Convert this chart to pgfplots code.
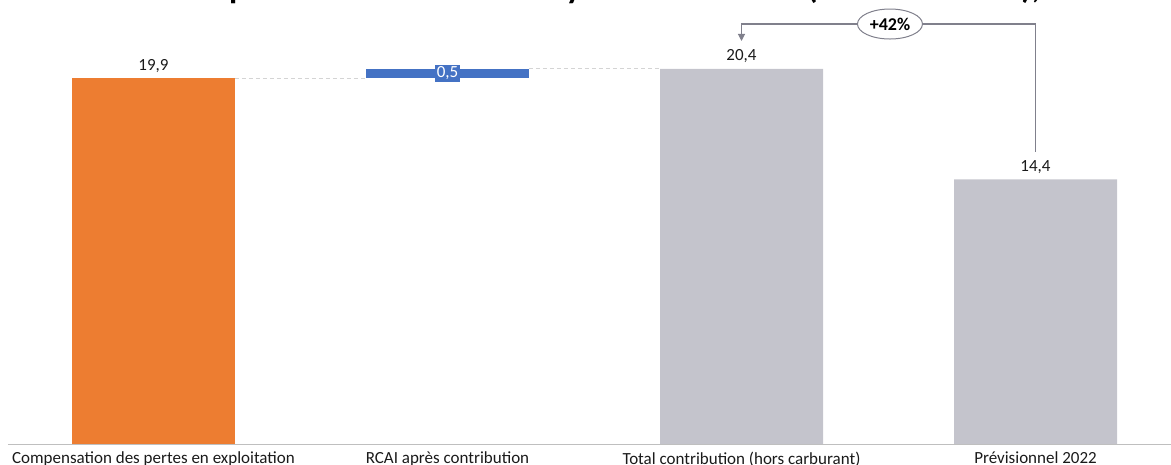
\documentclass[border=0pt]{standalone}
\usepackage{fontspec}
\setmainfont{Carlito}
\usepackage{pgfplots}
\pgfplotsset{compat=1.18}
\usetikzlibrary{arrows.meta,shapes.geometric}
\definecolor{cOrange}{HTML}{ED7D31}
\definecolor{cBlue}{HTML}{4472C4}
\definecolor{cGray}{HTML}{C4C4CC}
\definecolor{cLine}{HTML}{80808C}
\definecolor{cText}{HTML}{1A1A1A}
\definecolor{cDash}{HTML}{D4D4D4}
\definecolor{cBase}{HTML}{BFBFBF}
\begin{document}
\begin{tikzpicture}
\begin{axis}[
  x=294pt, y=18.44pt,
  xmin=-0.5221, xmax=3.4609, ymin=0, ymax=24.132,
  axis line style={draw=none},
  ytick=\empty,
  xtick={0,1,2,3},
  xticklabels={Compensation des pertes en exploitation, RCAI après contribution, Total contribution (hors carburant), Prévisionnel 2022},
  major tick length=0pt,
  xticklabel style={font=\fontsize{17}{20}\selectfont, text=cText, anchor=north, inner sep=0pt, yshift=-7pt},
  clip=false,
  ybar stacked, bar width=163pt,
]
% invisible base for the floating bar
\addplot[fill=none, draw=none] coordinates {(0,0) (1,19.9) (2,0) (3,0)};
\addplot[fill=cOrange, draw=none] coordinates {(0,19.9) (1,0) (2,0) (3,0)};
\addplot[fill=cBlue, draw=none] coordinates {(0,0) (1,0.5) (2,0) (3,0)};
\addplot[fill=cGray, draw=none] coordinates {(0,0) (1,0) (2,20.4) (3,14.4)};

\coordinate (base0) at (axis cs:-0.495,0);
\coordinate (base1) at (axis cs:3.4609,0);
\coordinate (d1a) at (axis cs:0.2772,19.9);
\coordinate (d1b) at (axis cs:0.7228,19.9);
\coordinate (d2a) at (axis cs:1.2772,20.4);
\coordinate (d2b) at (axis cs:1.7228,20.4);
\coordinate (v0) at (axis cs:0,19.9);
\coordinate (v1) at (axis cs:1,20.15);
\coordinate (v2) at (axis cs:2,20.4);
\coordinate (v3) at (axis cs:3,14.4);
\coordinate (a1) at (axis cs:3,15.89);
\coordinate (a2) at (axis cs:3,22.83);
\coordinate (a3) at (axis cs:2,22.83);
\coordinate (a4) at (axis cs:2,21.91);
\coordinate (ell) at (axis cs:2.505,22.83);
\coordinate (tt) at (axis cs:2.2228,24.19);
\coordinate (bl) at (axis cs:-0.5221,-1.0846);
\coordinate (tr) at (axis cs:3.4609,24.132);
\end{axis}
% baseline
\draw[cBase, line width=1pt] (base0) -- (base1);
% connectors
\draw[cDash, dash pattern=on 4pt off 3pt, line width=1pt] (d1a) -- (d1b);
\draw[cDash, dash pattern=on 4pt off 3pt, line width=1pt] (d2a) -- (d2b);
% value labels
\node[anchor=base, yshift=8pt, text=cText, font=\fontsize{17}{20}\selectfont] at (v0) {19,9};
\node[anchor=base, yshift=8pt, text=cText, font=\fontsize{17}{20}\selectfont] at (v2) {20,4};
\node[anchor=base, yshift=8pt, text=cText, font=\fontsize{17}{20}\selectfont] at (v3) {14,4};
\node[fill=cBlue, text=white, inner xsep=2pt, inner ysep=2pt, font=\fontsize{17}{20}\selectfont] at (v1) {0,5};
% bracket annotation
\draw[cLine, line width=1.2pt, -{Triangle[length=7pt,width=7pt]}] (a1) -- (a2) -- (a3) -- (a4);
\node[ellipse, draw=cLine, line width=1pt, fill=white, minimum width=65pt, minimum height=30pt, inner sep=0pt, text=black, font=\bfseries\fontsize{18}{21}\selectfont] at (ell) {+42\%};
% title (mostly outside the cropped page)
\node[anchor=base east, inner sep=0pt, font=\fontsize{33.5}{40}\selectfont\bfseries] at (tt) {Montant de la compensation financière moyenne demandée\ };
\node[anchor=base west, inner sep=0pt, font=\fontsize{33.5}{40}\selectfont\bfseries] at (tt) {(hors carburant), en M€};
\pgfresetboundingbox
\useasboundingbox (bl) rectangle (tr);
\end{tikzpicture}
\end{document}
